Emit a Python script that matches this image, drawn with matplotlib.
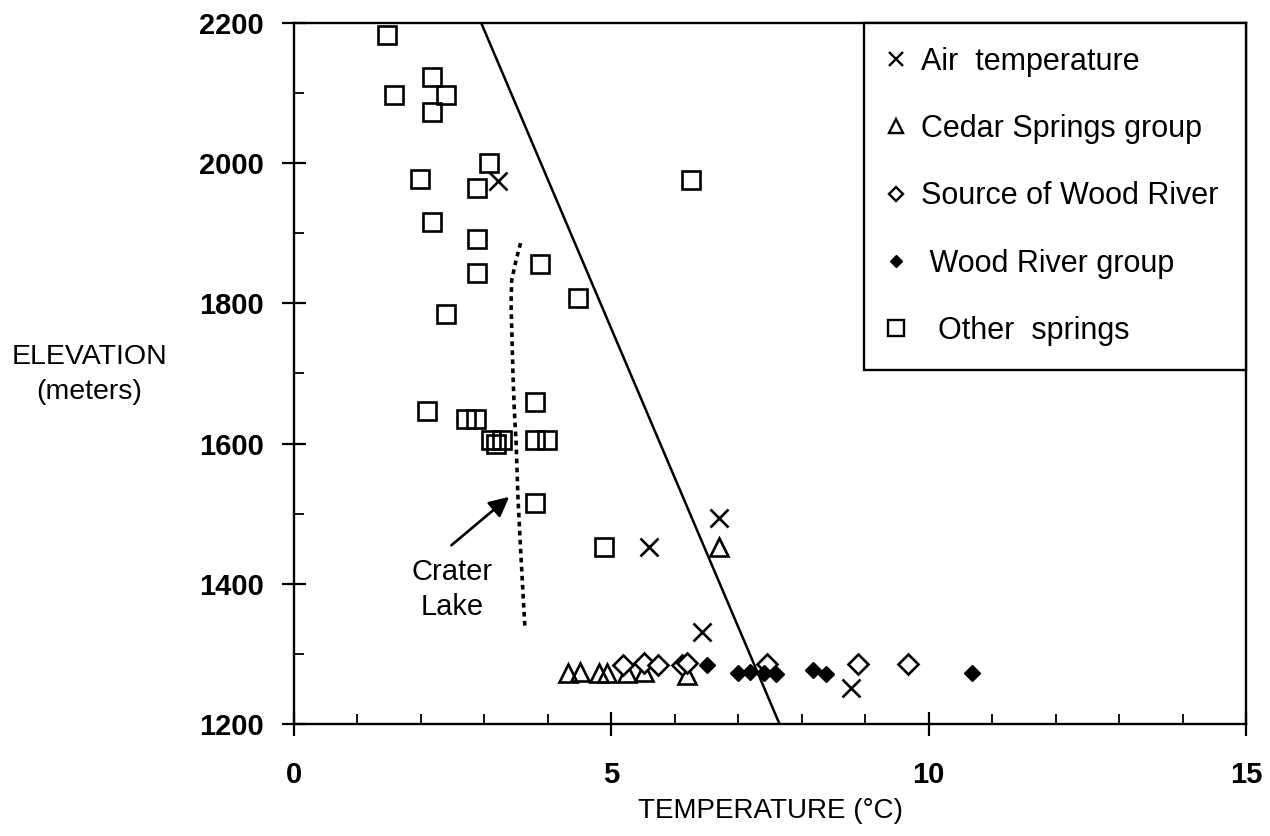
import matplotlib
matplotlib.use("Agg")
import matplotlib.pyplot as plt
from matplotlib.lines import Line2D
from matplotlib.ticker import MultipleLocator

plt.rcParams['font.family'] = ['Liberation Sans', 'DejaVu Sans']

# ---- data ----
air_t = [3.21, 5.59, 6.69, 6.43, 8.77]
air_z = [1975, 1452, 1494, 1331, 1251]

cedar_t = [4.32, 4.51, 4.81, 4.93, 5.24, 5.52, 6.20, 6.69]
cedar_z = [1273, 1274, 1273, 1273, 1273, 1274, 1270, 1452]

source_t = [5.19, 5.52, 5.73, 6.12, 6.20, 7.46, 8.88, 9.67]
source_z = [1284, 1287, 1284, 1284, 1287, 1285, 1286, 1286]

wood_t = [6.51, 6.99, 7.18, 7.40, 7.59, 8.17, 8.38, 10.68]
wood_z = [1284, 1273, 1274, 1273, 1271, 1277, 1271, 1273]

other_t = [1.47, 1.57, 2.18, 2.39, 2.18, 3.08, 1.98, 2.89, 2.18, 2.89, 2.89, 3.88,
           4.47, 2.39, 2.09, 2.71, 2.86, 3.79, 3.11, 3.27, 3.19, 3.79, 3.98, 3.79,
           4.89, 6.26]
other_z = [2183, 2097, 2123, 2097, 2073, 2000, 1977, 1965, 1916, 1892, 1843, 1856,
           1808, 1785, 1647, 1635, 1635, 1659, 1605, 1605, 1600, 1605, 1605, 1515,
           1452, 1976]

lapse_t = [2.95, 7.65]
lapse_z = [2200, 1200]

crater_t = [3.57, 3.50, 3.43, 3.42, 3.45, 3.47, 3.50, 3.53, 3.57, 3.60, 3.64]
crater_z = [1886, 1862, 1833, 1800, 1700, 1650, 1600, 1520, 1450, 1400, 1335]

xticks = [0, 5, 10, 15]
yticks = [1200, 1400, 1600, 1800, 2000, 2200]
labels = ["Air  temperature", "Cedar Springs group", "Source of Wood River",
          " Wood River group", "  Other  springs"]

# ---- figure ----
W, H = 1270, 836
fig = plt.figure(figsize=(W / 100, H / 100), dpi=100)
L, R, T, B = 294, 1246, 23, 724
ax = fig.add_axes([L / W, 1 - B / H, (R - L) / W, (B - T) / H])
ax.set_xlim(0, 15)
ax.set_ylim(1200, 2200)

ax.plot(lapse_t, lapse_z, color='black', lw=1.8, zorder=2)
ax.plot(crater_t, crater_z, color='black', lw=2.6, linestyle=(0, (1.3, 1.2)), zorder=2)

ax.plot(other_t, other_z, linestyle='none', marker='s', ms=12.5, mfc='none',
        mec='black', mew=1.9, zorder=3)
ax.plot(cedar_t, cedar_z, linestyle='none', marker='^', ms=13.5, mfc='none',
        mec='black', mew=1.9, zorder=3)
ax.plot(source_t, source_z, linestyle='none', marker='D', ms=9.8, mfc='white',
        mec='black', mew=1.9, zorder=4)
ax.plot(wood_t, wood_z, linestyle='none', marker='D', ms=8.3, mfc='black',
        mec='black', mew=1, zorder=5)
ax.plot(air_t, air_z, linestyle='none', marker='x', ms=13.5, mec='black',
        mew=1.9, zorder=5)

# Crater Lake annotation
ax.annotate("", xy=(3.39, 1524), xytext=(2.48, 1455),
            arrowprops=dict(arrowstyle='-|>', color='black', lw=1.9,
                            mutation_scale=30, shrinkA=0, shrinkB=0))
ax.text(2.49, 1392, "Crater\nLake", ha='center', va='center', fontsize=21,
        linespacing=1.3)

# ticks and spines
ax.set_xticks(xticks)
ax.set_yticks(yticks)
ax.xaxis.set_minor_locator(MultipleLocator(1))
ax.yaxis.set_minor_locator(MultipleLocator(100))
ax.tick_params(which='major', direction='inout', length=17, width=1.6,
               labelsize=21)
ax.tick_params(axis='x', which='major', pad=18)
ax.tick_params(axis='y', which='major', pad=13)
ax.tick_params(which='minor', direction='in', length=7, width=1.3)
for lab in ax.get_xticklabels() + ax.get_yticklabels():
    lab.set_fontweight('bold')
for s in ax.spines.values():
    s.set_linewidth(1.7)

# axis titles
fig.text(770 / W, 1 - 811 / H, "TEMPERATURE (°C)", ha='center', va='center',
         fontsize=20)
fig.text(89 / W, 1 - 357 / H, "ELEVATION", ha='center', va='center', fontsize=20.5)
fig.text(89 / W, 1 - 392 / H, "(meters)", ha='center', va='center', fontsize=20.5)

# legend
handles = [
    Line2D([], [], linestyle='none', marker='x', ms=10, mec='black', mew=1.7),
    Line2D([], [], linestyle='none', marker='^', ms=10, mfc='none', mec='black', mew=1.7),
    Line2D([], [], linestyle='none', marker='D', ms=7.5, mfc='white', mec='black', mew=1.7),
    Line2D([], [], linestyle='none', marker='D', ms=6.5, mfc='black', mec='black'),
    Line2D([], [], linestyle='none', marker='s', ms=11, mfc='none', mec='black', mew=1.7),
]
x0 = (864 - L) / (R - L)
leg = ax.legend(handles, labels, loc='upper left', bbox_to_anchor=(x0, 0, 1 - x0, 1),
                mode='expand', borderaxespad=0, fancybox=False, framealpha=1,
                edgecolor='black', fontsize=22, labelspacing=1.22, borderpad=0.78,
                handlelength=0.55, handletextpad=0.55)
leg.get_frame().set_linewidth(1.7)
leg.set_zorder(10)

fig.savefig("out.png", dpi=100)
